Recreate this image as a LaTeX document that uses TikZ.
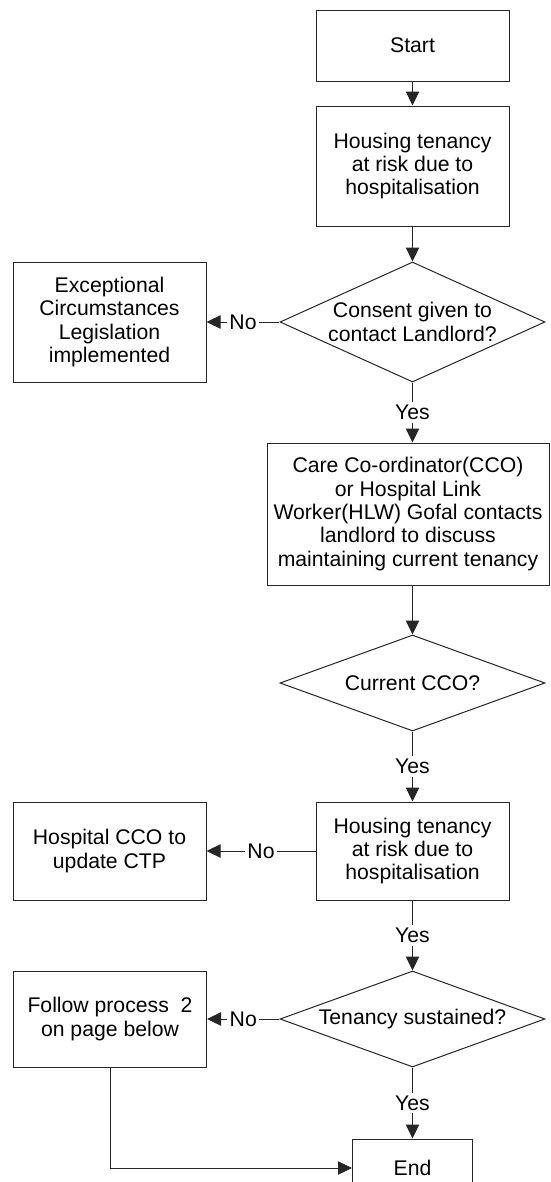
\documentclass[tikz,border=0pt]{standalone}
\usepackage{fontspec}
\setmainfont{Liberation Sans}
\usetikzlibrary{shapes.geometric,arrows.meta}
\begin{document}
\begin{tikzpicture}[x=0.75pt,y=-0.75pt,
  font=\fontsize{15.9}{17.5}\selectfont,
  box/.style={draw=black!85,line width=0.75pt,rectangle,align=center,inner sep=2pt},
  dec/.style={draw=black!85,line width=0.75pt,diamond,align=center,inner sep=-4pt},
  conn/.style={draw=black!85,line width=0.75pt,-{Triangle[length=10.5pt,width=10pt]}},
  lbl/.style={fill=white,inner sep=2pt}
]
\clip (0,0) rectangle (550,1182);
\fill[white] (0,0) rectangle (550,1182);

\node[box,minimum width=144.75pt,minimum height=53.25pt] (start) at (412.5,45.5) {Start};
\node[box,minimum width=144.75pt,minimum height=90pt] (house1) at (412.5,166) {Housing tenancy\\at risk due to\\hospitalisation};
\node[dec,aspect=2.208,minimum width=198.75pt,minimum height=90pt] (d1) at (412.5,322) {Consent given to\\contact Landlord?};
\node[box,minimum width=144.75pt,minimum height=90pt] (exc) at (109.5,322) {Exceptional\\Circumstances\\Legislation\\implemented};
\node[box,minimum width=211.5pt,minimum height=106.5pt] (care) at (408,514) {Care Co-ordinator(CCO)\\or Hospital Link\\Worker(HLW) Gofal contacts\\landlord to discuss\\maintaining current tenancy};
\node[dec,aspect=2.76,minimum width=198.75pt,minimum height=72pt] (d2) at (412.5,683) {Current CCO?};
\node[box,minimum width=144.75pt,minimum height=73.5pt] (house2) at (412.5,851) {Housing tenancy\\at risk due to\\hospitalisation};
\node[box,minimum width=144.75pt,minimum height=73.5pt] (hosp) at (109.5,851) {Hospital CCO to\\update CTP};
\node[dec,aspect=2.76,minimum width=198.75pt,minimum height=72pt] (d3) at (412.5,1019) {Tenancy sustained?};
\node[box,minimum width=144.75pt,minimum height=72pt] (follow) at (110,1019) {Follow process\ \ 2\\on page below};
\node[box,minimum width=90pt,minimum height=43.5pt] (end) at (412.5,1168) {End};

\draw[conn] (start) -- (house1);
\draw[conn] (house1) -- (d1);
\draw[conn] (d1) -- node[lbl]{No} (exc);
\draw[conn] (d1.south) -- node[lbl]{Yes} (d1.south |- care.north);
\draw[conn] (care.south -| d2.north) -- (d2.north);
\draw[conn] (d2) -- node[lbl]{Yes} (house2);
\draw[conn] (house2) -- node[lbl]{No} (hosp);
\draw[conn] (house2) -- node[lbl]{Yes} (d3);
\draw[conn] (d3) -- node[lbl]{No} (follow);
\draw[conn] (d3) -- node[lbl]{Yes} (end);
\draw[conn] (follow.south) |- (end.west);
\end{tikzpicture}
\end{document}
